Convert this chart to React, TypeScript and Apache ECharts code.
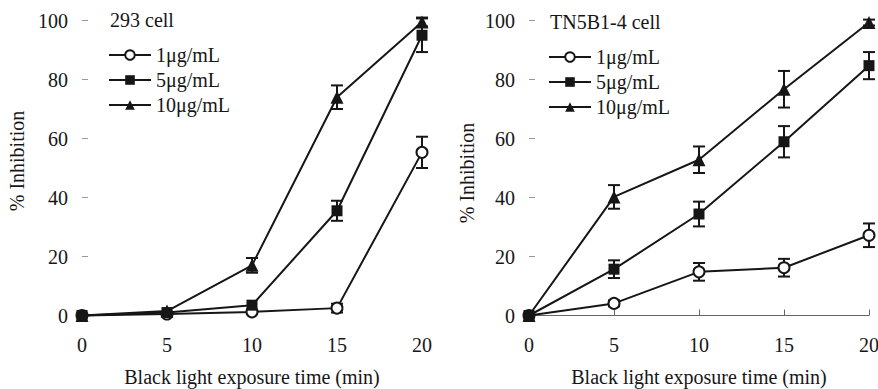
import React, { useEffect, useRef } from "react";
import * as echarts from "echarts";

const times = [0, 5, 10, 15, 20];
const seriesNames = ["1μg/mL", "5μg/mL", "10μg/mL"];

// 293 cell
const c293_1 = [0, 0.5, 1.2, 2.5, 55.3];
const c293_1err = [0, 0, 0.6, 1.5, 5.3];
const c293_5 = [0, 1, 3.5, 35.5, 95];
const c293_5err = [0, 0, 0, 3.4, 5.7];
const c293_10 = [0, 1.5, 17, 74, 99.5];
const c293_10err = [0, 0, 2.5, 4, 1.5];

// TN5B1-4 cell
const tn_1 = [0, 4.1, 14.8, 16.2, 27.2];
const tn_1err = [0, 1, 3, 3, 4];
const tn_5 = [0, 15.7, 34.4, 58.9, 84.7];
const tn_5err = [0, 3, 4.2, 5.3, 4.6];
const tn_10 = [0, 40.2, 52.8, 76.7, 99.3];
const tn_10err = [0, 4, 4.5, 6.2, 1];

const FONT = "Liberation Serif";
const FS = 20;
const INK = "#161616";

const symbolStyles = [
  { symbol: "circle", symbolSize: 11, itemStyle: { color: "#fff", borderColor: INK, borderWidth: 2 } },
  { symbol: "rect", symbolSize: 11, itemStyle: { color: INK, borderColor: INK, borderWidth: 0 } },
  { symbol: "triangle", symbolSize: 13, itemStyle: { color: INK, borderColor: INK, borderWidth: 0 } },
];

function errData(vals: number[], errs: number[]) {
  const out: number[][] = [];
  vals.forEach((v, i) => {
    if (errs[i] > 0) out.push([times[i], v - errs[i], v + errs[i]]);
  });
  return out;
}

const renderErr = (params: any, api: any) => {
  const x = api.value(0);
  const lo = api.value(1);
  const hi = api.value(2);
  const p1 = api.coord([x, hi]);
  const p2 = api.coord([x, lo]);
  const w = 6;
  const style = { stroke: INK, lineWidth: 2 };
  return {
    type: "group",
    children: [
      { type: "line", shape: { x1: p1[0], y1: p1[1], x2: p2[0], y2: p2[1] }, style },
      { type: "line", shape: { x1: p1[0] - w, y1: p1[1], x2: p1[0] + w, y2: p1[1] }, style },
      { type: "line", shape: { x1: p2[0] - w, y1: p2[1], x2: p2[0] + w, y2: p2[1] }, style },
    ],
  };
};

export default function App() {
  const ref = useRef<HTMLDivElement>(null);
  useEffect(() => {
    if (!ref.current) return;
    const chart = echarts.init(ref.current, null, { renderer: "svg" });
    const groups = [
      [c293_1, c293_5, c293_10],
      [tn_1, tn_5, tn_10],
    ];
    const errGroups = [
      [c293_1err, c293_5err, c293_10err],
      [tn_1err, tn_5err, tn_10err],
    ];
    const series: any[] = [];
    groups.forEach((g, gi) => {
      g.forEach((vals, si) => {
        series.push({
          type: "custom",
          name: seriesNames[si] + "_err" + gi,
          xAxisIndex: gi,
          yAxisIndex: gi,
          renderItem: renderErr,
          encode: { x: 0, y: [1, 2] },
          data: errData(vals, errGroups[gi][si]),
          z: 1,
          silent: true,
        });
      });
      g.forEach((vals, si) => {
        series.push({
          type: "line",
          name: seriesNames[si],
          xAxisIndex: gi,
          yAxisIndex: gi,
          data: vals.map((v, i) => [times[i], v]),
          lineStyle: { color: INK, width: 2 },
          clip: false,
          z: 3,
          ...symbolStyles[si],
        });
      });
    });

    const yAxisCommon = {
      type: "value",
      min: 0,
      max: 100,
      interval: 20,
      splitLine: { show: false },
      axisLine: { show: false },
      axisTick: { show: true, inside: true, length: 6, lineStyle: { color: "#999", width: 1 } },
      axisLabel: { color: INK, fontFamily: FONT, fontSize: FS, margin: 14 },
    };
    const xAxisCommon = {
      type: "value",
      min: 0,
      max: 20,
      interval: 5,
      splitLine: { show: false },
      axisLabel: { color: INK, fontFamily: FONT, fontSize: FS, margin: 19 },
      nameLocation: "middle",
      nameGap: 51,
      name: "Black light exposure time (min)",
      nameTextStyle: { color: INK, fontFamily: FONT, fontSize: FS },
    };

    const legendCommon = {
      orient: "vertical",
      itemWidth: 42,
      itemHeight: 12,
      itemGap: 5,
      data: seriesNames,
      textStyle: { color: INK, fontFamily: FONT, fontSize: FS, lineHeight: 20 },
      selectedMode: false,
    };

    const textStyle = (t: string, extra: any = {}) => ({
      text: t,
      fontFamily: FONT,
      fontSize: FS,
      fill: INK,
      verticalAlign: "middle",
      ...extra,
    });

    chart.setOption({
      animation: false,
      backgroundColor: "#fff",
      textStyle: { fontFamily: FONT },
      grid: [
        { left: 82, width: 340, top: 20.5, height: 295, containLabel: false, outerBoundsMode: "none" },
        { left: 529, width: 340, top: 20.5, height: 295, containLabel: false, outerBoundsMode: "none" },
      ],
      xAxis: [
        {
          ...xAxisCommon,
          gridIndex: 0,
          axisLine: { show: false },
          axisTick: { show: false },
        },
        {
          ...xAxisCommon,
          gridIndex: 1,
          axisLine: { show: true, lineStyle: { color: "#666", width: 1 } },
          axisTick: { show: true, inside: true, length: 6, lineStyle: { color: "#666", width: 1 } },
        },
      ],
      yAxis: [
        { ...yAxisCommon, gridIndex: 0 },
        { ...yAxisCommon, gridIndex: 1 },
      ],
      legend: [
        { ...legendCommon, left: 103, top: 40 },
        { ...legendCommon, left: 543, top: 42 },
      ],
      graphic: [
        { type: "text", x: 110, y: 20, style: textStyle("293 cell") },
        { type: "text", x: 550, y: 22, style: textStyle("TN5B1-4 cell") },
        { type: "text", x: 17, y: 161, rotation: Math.PI / 2, style: textStyle("% Inhibition", { align: "center" }) },
        { type: "text", x: 467, y: 173, rotation: Math.PI / 2, style: textStyle("% Inhibition", { align: "center" }) },
      ],
      series,
    });
    return () => chart.dispose();
  }, []);
  return (
    <div
      ref={ref}
      style={{ position: "fixed", left: 0, top: 0, width: 878, height: 389, background: "#fff" }}
    />
  );
}
